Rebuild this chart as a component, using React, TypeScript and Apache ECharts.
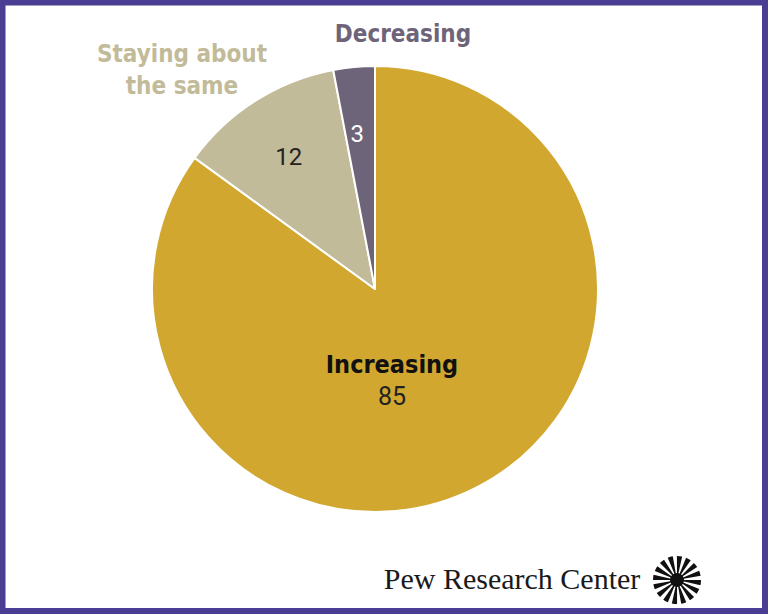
import React, { useEffect, useRef } from "react";
import * as echarts from "echarts";

const categories = ["Increasing", "Staying about the same", "Decreasing"];
const values = [85, 12, 3];
const colors = ["#d1a730", "#c2bb99", "#6e6479"];

const BOLD_FONT = "'Liberation Sans Narrow', 'DejaVu Sans Condensed', 'Roboto', sans-serif";
const NUM_FONT = "'Roboto', 'Liberation Sans', sans-serif";

export default function App() {
  const ref = useRef<HTMLDivElement>(null);
  useEffect(() => {
    if (!ref.current) return;
    const chart = echarts.init(ref.current, null, { renderer: "svg" });

    const labelOffsets = [[-35, -12], [-25, -35], [-7, -41]];
    const labelColors = ["#222", "#222", "#ffffff"];

    const data = categories.map((name, i) => ({
      name,
      value: values[i],
      itemStyle: { color: colors[i] },
      label:
        i === 0
          ? {
              show: true,
              position: "inside",
              offset: labelOffsets[i],
              formatter: "{n|{b}}\n{v|{c}}",
              rich: {
                n: { fontFamily: BOLD_FONT, fontWeight: "bold", fontSize: 25, color: "#111", lineHeight: 34 },
                v: { fontFamily: NUM_FONT, fontSize: 25, color: "#222", lineHeight: 30 },
              },
            }
          : {
              show: true,
              position: "inside",
              offset: labelOffsets[i],
              formatter: "{c}",
              fontFamily: NUM_FONT,
              fontSize: 24,
              color: labelColors[i],
            },
    }));

    const logoWedges: any[] = [];
    for (let k = 0; k < 16; k++) {
      const a = (k * Math.PI * 2) / 16 + Math.PI / 16;
      logoWedges.push({
        type: "sector",
        shape: { cx: 677, cy: 580, r0: 4, r: 24, startAngle: a - 0.2, endAngle: a + 0.2 * 0 + 0.02 },
        style: { fill: "#111" },
      });
    }

    chart.setOption({
      animation: false,
      backgroundColor: "#ffffff",
      series: [
        {
          type: "pie",
          center: [375, 289],
          radius: [0, 223],
          startAngle: 90,
          clockwise: true,
          avoidLabelOverlap: false,
          labelLine: { show: false },
          itemStyle: { borderColor: "#ffffff", borderWidth: 2 },
          emphasis: { disabled: true },
          data,
        },
      ],
      graphic: [
        {
          type: "rect",
          shape: { x: 2.5, y: 2.5, width: 762.5, height: 608.5 },
          style: { fill: "none", stroke: "#4a3e94", lineWidth: 6 },
          z: 100,
        },
        {
          type: "text",
          x: 403,
          y: 34,
          style: {
            text: "Decreasing",
            fontFamily: BOLD_FONT,
            fontWeight: "bold",
            fontSize: 24,
            fill: "#6e6479",
            align: "center",
            verticalAlign: "middle",
          },
        },
        {
          type: "text",
          x: 182,
          y: 70,
          style: {
            text: "Staying about\nthe same",
            fontFamily: BOLD_FONT,
            fontWeight: "bold",
            fontSize: 24,
            lineHeight: 32,
            fill: "#c2bb99",
            align: "center",
            verticalAlign: "middle",
          },
        },
        {
          type: "text",
          x: 512,
          y: 578,
          style: {
            text: "Pew Research Center",
            fontFamily: "'Liberation Serif', 'DejaVu Serif', serif",
            fontSize: 30,
            fill: "#1a1a1a",
            align: "center",
            verticalAlign: "middle",
          },
        },
        { type: "circle", shape: { cx: 677, cy: 580, r: 7 }, style: { fill: "#111" } },
        ...logoWedges,
      ],
    });
    return () => chart.dispose();
  }, []);
  return (
    <div
      ref={ref}
      style={{ position: "fixed", left: 0, top: 0, width: 768, height: 614 }}
    />
  );
}
